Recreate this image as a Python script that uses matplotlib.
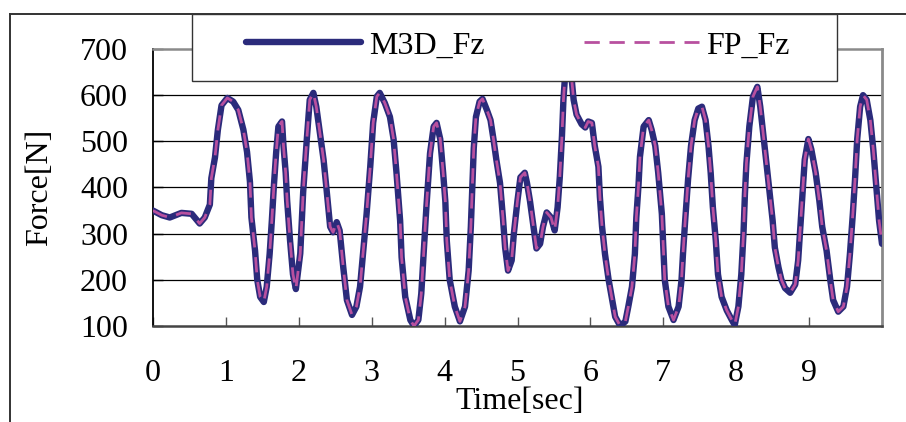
import matplotlib
matplotlib.use("Agg")
import matplotlib.pyplot as plt
from matplotlib.lines import Line2D
from matplotlib.patches import Rectangle

plt.rcParams['font.family'] = ['Liberation Serif', 'DejaVu Serif']

time_s = [0.00, 0.12, 0.23, 0.39, 0.53, 0.64, 0.71, 0.78, 0.80, 0.85, 0.89, 0.94,
          1.02, 1.10, 1.17, 1.24, 1.29, 1.33, 1.35, 1.40, 1.43, 1.47, 1.52, 1.56,
          1.60, 1.63, 1.66, 1.69, 1.72, 1.77, 1.79, 1.82, 1.84, 1.88, 1.92, 1.96,
          2.02, 2.06, 2.11, 2.15, 2.20, 2.24, 2.29, 2.34, 2.38, 2.43, 2.47, 2.52,
          2.56, 2.61, 2.66, 2.73, 2.79, 2.84, 2.88, 2.93, 2.98, 3.02, 3.07, 3.11,
          3.18, 3.25, 3.30, 3.34, 3.39, 3.41, 3.46, 3.53, 3.58, 3.64, 3.68, 3.71,
          3.75, 3.80, 3.85, 3.89, 3.94, 3.98, 4.01, 4.03, 4.07, 4.14, 4.21, 4.28,
          4.33, 4.36, 4.38, 4.40, 4.43, 4.48, 4.52, 4.58, 4.63, 4.67, 4.71, 4.76,
          4.80, 4.83, 4.87, 4.92, 4.95, 5.00, 5.04, 5.10, 5.13, 5.17, 5.22, 5.26,
          5.31, 5.35, 5.40, 5.46, 5.51, 5.55, 5.58, 5.61, 5.63, 5.66, 5.70, 5.74,
          5.77, 5.81, 5.88, 5.93, 5.97, 6.02, 6.06, 6.11, 6.13, 6.16, 6.20, 6.25,
          6.30, 6.34, 6.41, 6.48, 6.52, 6.57, 6.61, 6.63, 6.66, 6.68, 6.73, 6.80,
          6.84, 6.89, 6.93, 6.98, 7.00, 7.02, 7.07, 7.14, 7.21, 7.25, 7.27, 7.30,
          7.34, 7.38, 7.43, 7.48, 7.53, 7.58, 7.62, 7.65, 7.68, 7.72, 7.75, 7.80,
          7.87, 7.94, 7.98, 8.03, 8.07, 8.10, 8.12, 8.14, 8.18, 8.23, 8.29, 8.33,
          8.37, 8.42, 8.46, 8.50, 8.53, 8.58, 8.62, 8.67, 8.74, 8.81, 8.85, 8.88,
          8.91, 8.94, 8.99, 9.03, 9.09, 9.14, 9.18, 9.24, 9.29, 9.33, 9.40, 9.47,
          9.52, 9.56, 9.60, 9.63, 9.66, 9.70, 9.74, 9.79, 9.84, 9.88, 9.92, 9.96,
          10.00]

m3d_fz = [350, 340, 335, 345, 343, 322, 335, 363, 420, 465, 525, 578,
          594, 586, 568, 525, 477, 412, 335, 263, 200, 163, 152, 185,
          256, 328, 408, 477, 532, 543, 490, 432, 372, 285, 212, 180,
          257, 390, 505, 590, 605, 575, 518, 460, 397, 315, 303, 325,
          307, 227, 156, 124, 142, 185, 256, 343, 445, 540, 597, 605,
          583, 553, 505, 432, 328, 249, 163, 113, 100, 113, 170, 249,
          357, 474, 532, 540, 505, 432, 370, 285, 200, 142, 110, 142,
          220, 315, 397, 485, 553, 586, 592, 568, 546, 505, 460, 410,
          335, 270, 220, 242, 300, 372, 422, 432, 410, 372, 315, 268,
          278, 315, 346, 335, 307, 357, 422, 512, 590, 660, 690, 640,
          590, 558, 537, 530, 543, 540, 490, 445, 380, 315, 256, 200,
          156, 120, 100, 110, 142, 185, 256, 335, 405, 467, 532, 546,
          525, 490, 432, 343, 270, 200, 142, 113, 142, 200, 256, 328,
          418, 490, 546, 571, 575, 546, 490, 432, 357, 285, 212, 163,
          134, 113, 102, 142, 212, 300, 387, 452, 532, 597, 618, 575,
          518, 445, 387, 328, 270, 227, 200, 182, 172, 190, 242, 315,
          387, 460, 505, 483, 432, 372, 315, 263, 200, 156, 131, 142,
          185, 256, 343, 418, 505, 575, 600, 590, 546, 483, 405, 328,
          278]

fp_fz = list(m3d_fz)

x_ticks = [0, 1, 2, 3, 4, 5, 6, 7, 8, 9]
y_ticks = [100, 200, 300, 400, 500, 600, 700]
series_names = ["M3D_Fz", "FP_Fz"]

NAVY = "#2B2B7B"
MAGENTA = "#B8509F"
FS = 23

W, H = 906, 422
fig = plt.figure(figsize=(W / 100, H / 100), dpi=100)
fig.patch.set_facecolor("white")

ax = fig.add_axes([153 / W, 1 - 326 / H, (882 - 153) / W, (326 - 49) / H])
ax.plot(time_s, m3d_fz, color=NAVY, lw=4.6, solid_joinstyle="round",
        solid_capstyle="round", zorder=3)
ax.plot(time_s, fp_fz, color=MAGENTA, lw=2.0, dashes=(5.5, 3.5), zorder=4)

ax.set_xlim(0, 10)
ax.set_ylim(100, 700)
ax.set_xticks(x_ticks)
ax.set_xticklabels([str(v) for v in x_ticks])
ax.set_yticks(y_ticks)
ax.set_yticklabels([str(v) for v in y_ticks])
ax.tick_params(axis="x", direction="in", length=6.5, width=1.0, color="#555555",
               pad=23.5, labelsize=FS)
ax.tick_params(axis="y", direction="in", length=7, width=1.0, color="black",
               pad=18, labelsize=FS)
for y in y_ticks[1:-1]:
    ax.axhline(y, color="black", lw=0.9, zorder=1)

ax.spines["left"].set_color("black")
ax.spines["left"].set_linewidth(1.3)
ax.spines["bottom"].set_color("#444444")
ax.spines["bottom"].set_linewidth(1.8)
ax.spines["top"].set_color("#8a8a8a")
ax.spines["top"].set_linewidth(1.8)
ax.spines["right"].set_color("#8a8a8a")
ax.spines["right"].set_linewidth(2.0)

ax.set_xlabel("Time[sec]", fontsize=FS, va="top")
ax.xaxis.set_label_coords(0.503, -0.222)
ax.set_ylabel("Force[N]", fontsize=FS)
ax.yaxis.set_label_coords(-0.136, 0.5)

# outer chart frame (top and left visible)
fig.add_artist(Line2D([10 / W, 1.0], [1 - 14 / H, 1 - 14 / H],
                      transform=fig.transFigure, color="#333333", lw=1.4))
fig.add_artist(Line2D([10 / W, 10 / W], [0.0, 1 - 14 / H],
                      transform=fig.transFigure, color="#333333", lw=1.4))

# legend box
box = Rectangle((192 / W, 1 - 81 / H), (837 - 192) / W, (81 - 14) / H,
                transform=fig.transFigure, facecolor="white",
                edgecolor="#333333", lw=1.0, zorder=10)
fig.add_artist(box)

h1 = Line2D([], [], color=NAVY, lw=4.6, solid_capstyle="round")
h2 = Line2D([], [], color=MAGENTA, lw=2.0, dashes=(5.5, 3.5))
leg = fig.legend([h1, h2], series_names, loc="center left",
                 bbox_to_anchor=(246 / W, 1 - 46 / H), ncol=2, frameon=False,
                 fontsize=FS, handlelength=3.6, handletextpad=0.25,
                 columnspacing=3.1, borderpad=0, borderaxespad=0)
leg.set_zorder(11)

fig.savefig("out.png", dpi=100, facecolor="white")
